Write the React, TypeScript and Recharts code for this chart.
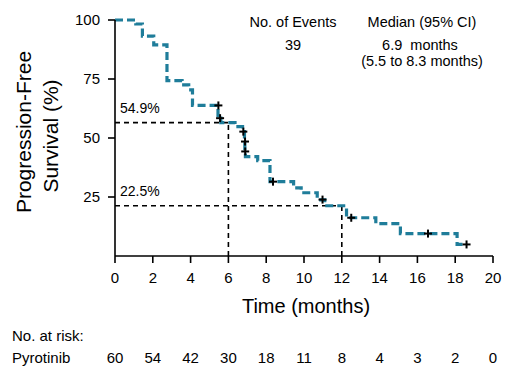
import React from 'react';
import { ComposedChart, Line, Scatter, XAxis, YAxis, ReferenceLine } from 'recharts';

// Kaplan-Meier step curve (time in months, survival %)
const kmTimes = [0, 1.1, 1.45, 2.05, 2.75, 3.55, 3.9, 4.1, 5.45, 5.6, 6.35, 6.75, 6.85, 6.87, 6.9, 7.55, 8.2, 9.45, 9.85, 10.7, 11.1, 12.25, 13.8, 15.1, 18.1, 18.6];
const kmSurvival = [100, 98.3, 93.2, 89.5, 74.3, 72.5, 70.4, 63.8, 58.4, 56.5, 54.8, 52.7, 48.5, 44.3, 42.1, 40.4, 31.5, 28.9, 26.8, 23.8, 21.3, 16.2, 13.7, 9.5, 4.9, 4.9];

// censored observations
const censorTimes = [5.47, 5.56, 6.79, 6.88, 6.89, 8.36, 10.98, 12.5, 16.56, 18.6];
const censorSurvival = [63.8, 58.4, 52.7, 48.5, 44.3, 31.5, 23.9, 16.2, 9.5, 4.9];

const xTicks = [0, 2, 4, 6, 8, 10, 12, 14, 16, 18, 20];
const yTicks = [25, 50, 75, 100];
const riskCounts = [60, 54, 42, 30, 18, 11, 8, 4, 3, 2, 0];

// median and 12-month guide lines
const medianTime = 6;
const medianSurvival = 56.5;
const yearTime = 12;
const yearSurvival = 21.3;

const TEAL = '#1f7d9a';

const kmData = kmTimes.map((t, i) => ({ t, s: kmSurvival[i] }));
const censorData = censorTimes.map((t, i) => ({ t, s: censorSurvival[i] }));
// invisible anchor so the risk-table axis gets rendered
const riskData = xTicks.map((t, i) => ({ t, s: 0, n: riskCounts[i] }));

const Plus = (props: any) => {
  const { cx, cy } = props;
  return (
    <g stroke="#000" strokeWidth={2}>
      <line x1={cx - 4} y1={cy} x2={cx + 4} y2={cy} />
      <line x1={cx} y1={cy - 4} x2={cx} y2={cy + 4} />
    </g>
  );
};

const Nothing = () => <g />;

const dashed = { stroke: '#000', strokeWidth: 1.6, strokeDasharray: '5 4' };

export default function App() {
  return (
    <div style={{ position: 'absolute', left: 0, top: 0, width: 516, height: 379, background: '#fff', fontFamily: '"Liberation Sans", Arial, sans-serif' }}>
      <ComposedChart width={516} height={379} margin={{ top: 20, right: 23, bottom: 3, left: 0 }}>
        <XAxis
          xAxisId="main"
          dataKey="t"
          type="number"
          domain={[0, 20]}
          ticks={xTicks}
          tickSize={7}
          tickMargin={9}
          height={60}
          stroke="#000"
          strokeWidth={1.6}
          tick={{ fill: '#000', fontSize: 15 }}
        />
        <XAxis
          xAxisId="risk"
          dataKey="t"
          type="number"
          domain={[0, 20]}
          ticks={xTicks}
          axisLine={false}
          tickLine={false}
          tickSize={0}
          tickMargin={36}
          height={60}
          tick={{ fill: '#000', fontSize: 15 }}
          tickFormatter={(v: number) => String(riskCounts[xTicks.indexOf(v)])}
        />
        <YAxis
          type="number"
          domain={[0, 100]}
          ticks={yTicks}
          width={115}
          tickSize={7}
          tickMargin={8}
          stroke="#000"
          strokeWidth={1.6}
          tick={{ fill: '#000', fontSize: 15 }}
        />
        <ReferenceLine xAxisId="main" segment={[{ x: 0, y: medianSurvival }, { x: medianTime, y: medianSurvival }]} {...dashed} />
        <ReferenceLine xAxisId="main" segment={[{ x: medianTime, y: 0 }, { x: medianTime, y: medianSurvival }]} {...dashed} />
        <ReferenceLine xAxisId="main" segment={[{ x: 0, y: yearSurvival }, { x: yearTime, y: yearSurvival }]} {...dashed} />
        <ReferenceLine xAxisId="main" segment={[{ x: yearTime, y: 0 }, { x: yearTime, y: yearSurvival }]} {...dashed} />
        <Line
          xAxisId="main"
          data={kmData}
          dataKey="s"
          type="stepAfter"
          stroke={TEAL}
          strokeWidth={3.2}
          strokeDasharray="8 4"
          dot={false}
          activeDot={false}
          isAnimationActive={false}
        />
        <Scatter xAxisId="main" data={censorData} dataKey="s" shape={Plus} isAnimationActive={false} />
        <Scatter xAxisId="risk" data={riskData} dataKey="s" shape={Nothing} isAnimationActive={false} />
      </ComposedChart>
      <svg width={516} height={379} style={{ position: 'absolute', left: 0, top: 0, pointerEvents: 'none' }}>
        <g fill="#000" fontSize={21}>
          <text x={31} y={132} textAnchor="middle" transform="rotate(-90, 31, 132)">Progression-Free</text>
          <text x={58} y={136} textAnchor="middle" transform="rotate(-90, 58, 136)">Survival (%)</text>
          <text x={306} y={313} textAnchor="middle" fontSize={20}>Time (months)</text>
        </g>
        <g fill="#000" fontSize={14}>
          <text x={120} y={113}>54.9%</text>
          <text x={120} y={196}>22.5%</text>
        </g>
        <g fill="#000" fontSize={14.5}>
          <text x={293} y={26.5} textAnchor="middle">No. of Events</text>
          <text x={422} y={26.5} textAnchor="middle">Median (95% CI)</text>
          <text x={293} y={50} textAnchor="middle">39</text>
          <text x={420} y={50} textAnchor="middle" xmlSpace="preserve">6.9  months</text>
          <text x={422} y={66} textAnchor="middle">(5.5 to 8.3 months)</text>
        </g>
        <g fill="#000" fontSize={15}>
          <text x={12} y={341}>No. at risk:</text>
          <text x={12} y={362.7}>Pyrotinib</text>
        </g>
      </svg>
    </div>
  );
}
